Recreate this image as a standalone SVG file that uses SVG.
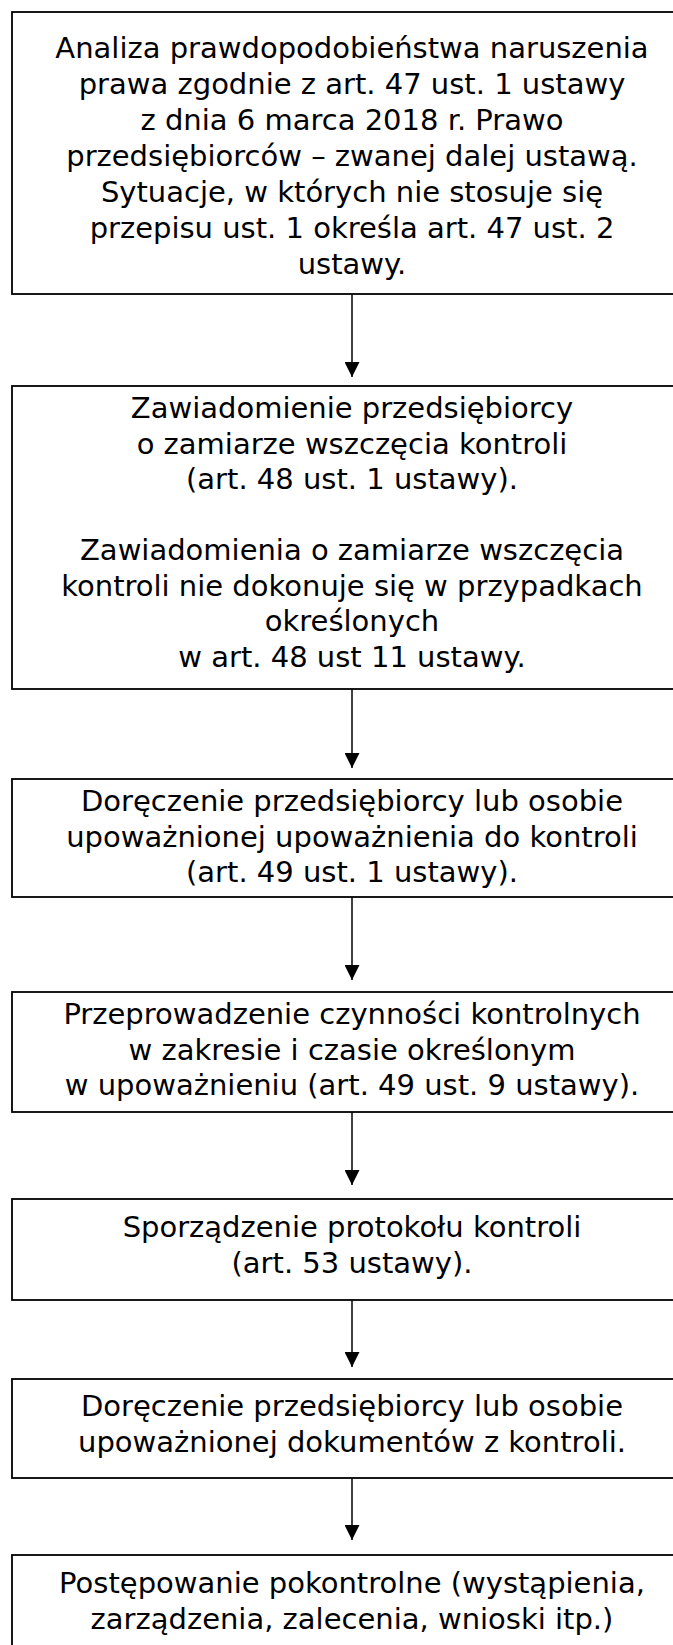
<svg xmlns="http://www.w3.org/2000/svg" width="673" height="1645" viewBox="0 0 673 1645">
<style>
.box{fill:#fff;stroke:#000;stroke-width:1.8}
.t{font-family:"DejaVu Sans",Verdana,sans-serif;font-size:29px;fill:#000;text-anchor:middle}
.c{stroke:#000;stroke-width:1.5;fill:none}
</style>
<defs>
<marker id="ah" markerUnits="userSpaceOnUse" markerWidth="15" markerHeight="15" refX="15" refY="7.5" orient="auto">
<path d="M0,0 L15,7.5 L0,15 Z" fill="#000"/>
</marker>
</defs>
<rect width="673" height="1645" fill="#fff"/>
<g id="connectors">
<line class="c" x1="352" y1="294" x2="352" y2="377" marker-end="url(#ah)"/>
<line class="c" x1="352" y1="689" x2="352" y2="768" marker-end="url(#ah)"/>
<line class="c" x1="352" y1="897" x2="352" y2="980" marker-end="url(#ah)"/>
<line class="c" x1="352" y1="1112" x2="352" y2="1185" marker-end="url(#ah)"/>
<line class="c" x1="352" y1="1300" x2="352" y2="1367" marker-end="url(#ah)"/>
<line class="c" x1="352" y1="1478" x2="352" y2="1540" marker-end="url(#ah)"/>
</g>
<g id="n1">
<rect class="box" x="12" y="12" width="680" height="282"/>
<text class="t" x="352" y="57.5">Analiza prawdopodobieństwa naruszenia</text>
<text class="t" x="352" y="93.5">prawa zgodnie z art. 47 ust. 1 ustawy</text>
<text class="t" x="352" y="129.5">z dnia 6 marca 2018 r. Prawo</text>
<text class="t" x="352" y="165.5">przedsiębiorców – zwanej dalej ustawą.</text>
<text class="t" x="352" y="201.5">Sytuacje, w których nie stosuje się</text>
<text class="t" x="352" y="237.5">przepisu ust. 1 określa art. 47 ust. 2</text>
<text class="t" x="352" y="273.5">ustawy.</text>
</g>
<g id="n2">
<rect class="box" x="12" y="386" width="680" height="303"/>
<text class="t" x="352" y="418">Zawiadomienie przedsiębiorcy</text>
<text class="t" x="352" y="453.5">o zamiarze wszczęcia kontroli</text>
<text class="t" x="352" y="489">(art. 48 ust. 1 ustawy).</text>
<text class="t" x="352" y="560">Zawiadomienia o zamiarze wszczęcia</text>
<text class="t" x="352" y="595.5">kontroli nie dokonuje się w przypadkach</text>
<text class="t" x="352" y="631">określonych</text>
<text class="t" x="352" y="666.5">w art. 48 ust 11 ustawy.</text>
</g>
<g id="n3">
<rect class="box" x="12" y="779" width="680" height="118"/>
<text class="t" x="352" y="811">Doręczenie przedsiębiorcy lub osobie</text>
<text class="t" x="352" y="846.5">upoważnionej upoważnienia do kontroli</text>
<text class="t" x="352" y="882">(art. 49 ust. 1 ustawy).</text>
</g>
<g id="n4">
<rect class="box" x="12" y="992" width="680" height="120"/>
<text class="t" x="352" y="1024">Przeprowadzenie czynności kontrolnych</text>
<text class="t" x="352" y="1059.5">w zakresie i czasie określonym</text>
<text class="t" x="352" y="1095">w upoważnieniu (art. 49 ust. 9 ustawy).</text>
</g>
<g id="n5">
<rect class="box" x="12" y="1199" width="680" height="101"/>
<text class="t" x="352" y="1237">Sporządzenie protokołu kontroli</text>
<text class="t" x="352" y="1273">(art. 53 ustawy).</text>
</g>
<g id="n6">
<rect class="box" x="12" y="1379" width="680" height="99"/>
<text class="t" x="352" y="1416">Doręczenie przedsiębiorcy lub osobie</text>
<text class="t" x="352" y="1452">upoważnionej dokumentów z kontroli.</text>
</g>
<g id="n7">
<rect class="box" x="12" y="1555" width="680" height="140"/>
<text class="t" x="352" y="1593">Postępowanie pokontrolne (wystąpienia,</text>
<text class="t" x="352" y="1629">zarządzenia, zalecenia, wnioski itp.)</text>
</g>
</svg>
